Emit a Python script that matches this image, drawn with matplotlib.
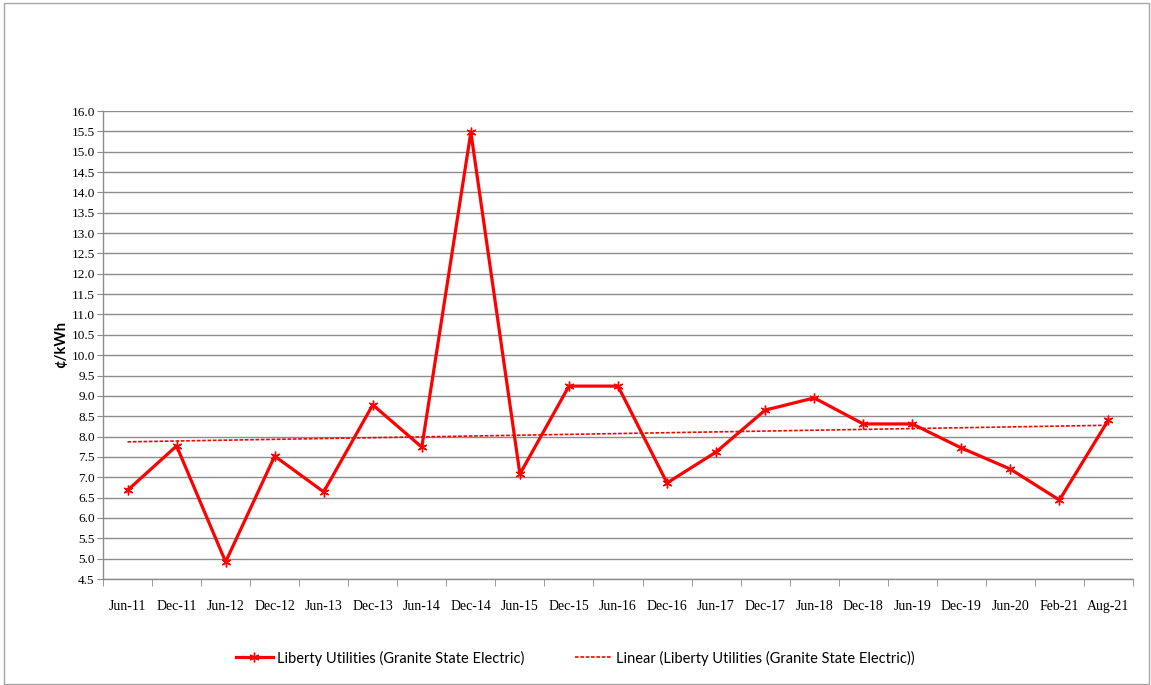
"""Liberty Utilities 电价走势图（¢/kWh）"""

import numpy as np
import matplotlib
matplotlib.use("Agg")
import matplotlib.pyplot as plt
from matplotlib.patches import Rectangle

# 数据
periods = ["Jun-11", "Dec-11", "Jun-12", "Dec-12", "Jun-13", "Dec-13", "Jun-14",
           "Dec-14", "Jun-15", "Dec-15", "Jun-16", "Dec-16", "Jun-17", "Dec-17",
           "Jun-18", "Dec-18", "Jun-19", "Dec-19", "Jun-20", "Feb-21", "Aug-21"]
rates = [6.68, 7.77, 4.92, 7.52, 6.64, 8.78, 7.74, 15.48, 7.08, 9.24, 9.24,
         6.86, 7.62, 8.65, 8.95, 8.31, 8.31, 7.72, 7.20, 6.44, 8.41]
series_name = "Liberty Utilities (Granite State Electric)"
y_ticks = np.arange(4.5, 16.01, 0.5)

RED = "#ff0000"
GRID = "#8c8c8c"
SANS = ["Liberation Sans Narrow", "Lato", "DejaVu Sans"]

fig = plt.figure(figsize=(11.51, 6.85), dpi=100)
ax = fig.add_axes([103 / 1151, 1 - 579 / 685, (1133 - 103) / 1151, (579 - 111) / 685])

x = np.arange(len(periods))

# 主折线
ax.plot(x, rates, color=RED, linewidth=2.3, marker=(6, 2, 0), markersize=7,
        markeredgewidth=1.0, markeredgecolor=RED, label=series_name, zorder=3)

# 线性趋势线
coef = np.polyfit(x, rates, 1)
ax.plot(x, np.polyval(coef, x), color=RED, linewidth=1.2, linestyle=(0, (2.2, 1.0)),
        label=f"Linear ({series_name})", zorder=2)

# 坐标轴
ax.set_xlim(-0.5, len(periods) - 0.5)
ax.set_ylim(4.5, 16.0)
ax.set_yticks(y_ticks)
ax.set_yticklabels([f"{v:.1f}" for v in y_ticks], family="Liberation Serif", fontsize=9.5)
ax.set_xticks(x)
ax.set_xticklabels(periods, family="Liberation Serif", fontsize=10)
ax.set_xticks(np.arange(-0.5, len(periods), 1.0), minor=True)
ax.tick_params(axis="x", which="major", length=0, pad=15)
ax.tick_params(axis="x", which="minor", length=5, color=GRID, direction="out")
ax.tick_params(axis="y", length=4, color=GRID, pad=2)

ax.grid(axis="y", color=GRID, linewidth=1.0)
ax.set_axisbelow(True)
for side in ("top", "right"):
    ax.spines[side].set_visible(False)
for side in ("left", "bottom"):
    ax.spines[side].set_color(GRID)
    ax.spines[side].set_linewidth(1.0)

ax.set_ylabel("¢/kWh", family=["Lato", "DejaVu Sans"], fontweight="bold", fontsize=10.5,
              labelpad=2)

# 图例
fig.legend(loc="center", bbox_to_anchor=(0.5, 1 - 658 / 685), ncol=2, frameon=False,
           prop={"family": SANS, "size": 10.5},
           handlelength=2.5, columnspacing=3.5, handletextpad=0.3)

# 外框
fig.patches.append(Rectangle((4 / 1151, 0.002), 1 - 6 / 1151, 1 - 4 / 685,
                             transform=fig.transFigure, fill=False,
                             edgecolor="#a6a6a6", linewidth=1.0))

fig.savefig("out.png", dpi=100)
